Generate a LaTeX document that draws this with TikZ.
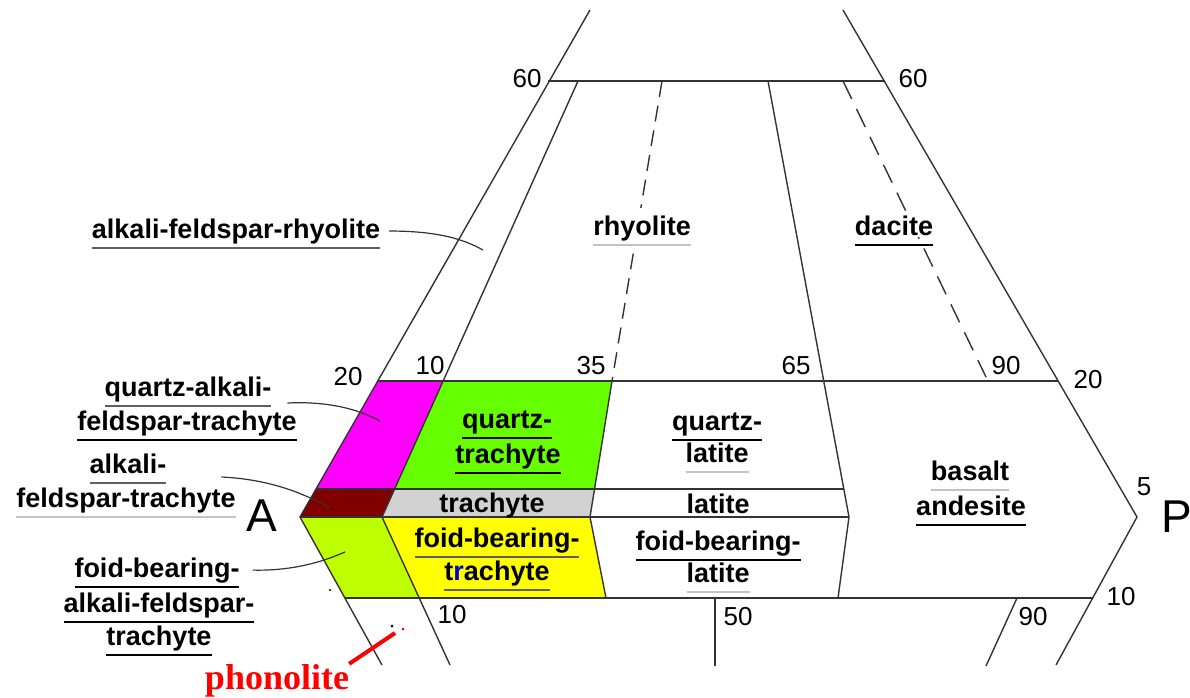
\documentclass[tikz,border=0pt]{standalone}
\usepackage{xcolor}
\usepackage{fontspec}
\setmainfont{Liberation Sans}
\newfontfamily\phonfont{Liberation Serif}
\usetikzlibrary{calc}

\definecolor{qmagenta}{RGB}{255,0,255}
\definecolor{qgreen}{RGB}{102,255,0}
\definecolor{qmaroon}{RGB}{128,0,0}
\definecolor{qgray}{RGB}{210,210,210}
\definecolor{qlime}{RGB}{190,255,0}
\definecolor{qyellow}{RGB}{255,255,0}
\definecolor{ulgray}{RGB}{195,195,195}
\definecolor{uldark}{RGB}{95,95,95}

% underline of a given colour below a word
\newcommand{\ulbar}[2]{\setbox0=\hbox{#2}\rlap{\smash{\textcolor{#1}{\rule[-11pt]{\wd0}{2pt}}}}\box0}

\begin{document}
\begin{tikzpicture}[x=1pt, y=-1pt, line join=round,
  every node/.style={inner sep=0pt},
  rock/.style={font=\fontsize{27}{30}\selectfont\bfseries, anchor=base},
  num/.style={font=\fontsize{26}{28}\selectfont},
  apex/.style={font=\fontsize{46}{50}\selectfont},
  bound/.style={line width=1.4pt, black!80},
  lead/.style={line width=1.2pt, black!80}]
  \fill[white] (0,0) rectangle (1190,697);
  \useasboundingbox (0,0) rectangle (1190,697);

  % corners and outer sides
  \coordinate (A) at (300,517);
  \coordinate (P) at (1137,517);
  \coordinate (qa) at (590,10);
  \coordinate (qb) at (843,10);
  \coordinate (fa) at (382,665);
  \coordinate (fb) at (1056,665);
  % horizontal lines
  \coordinate (s60a) at (548,81);   \coordinate (s60b) at (885,81);
  \coordinate (s20a) at (378,381);  \coordinate (s20b) at (1058,381);
  \coordinate (s5a) at (316,489);
  \coordinate (f10a) at (345,598);  \coordinate (f10b) at (1093,598);
  % 10 line
  \coordinate (t10) at (578,81);  \coordinate (u10) at (443.1,381);
  \coordinate (v10) at (394.6,489); \coordinate (w10) at (382,517);
  \coordinate (x10) at (419,598);   \coordinate (y10) at (450,665);
  % 35 line
  \coordinate (t35) at (662,81);  \coordinate (u35) at (612,381);
  \coordinate (v35) at (594.5,489); \coordinate (w35) at (590,517);
  \coordinate (x35) at (606,598);
  % 65 line
  \coordinate (t65) at (768,81);  \coordinate (v65) at (843.8,489);
  \coordinate (w65) at (849,517); \coordinate (x65) at (838,598);
  % 90 line and lower ticks
  \coordinate (t90) at (843,81);  \coordinate (u90) at (986,377);
  \coordinate (x50) at (715,598); \coordinate (y50) at (715,666);
  \coordinate (x90) at (1017,598); \coordinate (y90) at (986,666);

  % coloured fields
  \fill[qmagenta] (s20a) -- (u10) -- (v10) -- (s5a) -- cycle;
  \fill[qgreen] (u10) -- (u35) -- (v35) -- (v10) -- cycle;
  \fill[qmaroon] (s5a) -- (v10) -- (w10) -- (A) -- cycle;
  \fill[qgray] (v10) -- (v35) -- (w35) -- (w10) -- cycle;
  \fill[qlime] (A) -- (w10) -- (x10) -- (f10a) -- cycle;
  \fill[qyellow] (w10) -- (w35) -- (x35) -- (x10) -- cycle;

  % field boundaries
  \draw[bound] (qa) -- (A) -- (fa);
  \draw[bound] (qb) -- (P) -- (fb);
  \draw[bound] (s60a) -- (s60b);
  \draw[bound] (s20a) -- (s20b);
  \draw[bound] (s5a) -- (v65);
  \draw[bound] (A) -- (w65);
  \draw[bound] (f10a) -- (f10b);
  \draw[bound] (t10) -- (w10) -- (y10);
  \draw[bound, dash pattern=on 16pt off 9pt] (t35) -- (u35);
  \draw[bound] (u35) -- (w35) -- (x35);
  \draw[bound] (t65) -- (w65) -- (x65);
  \draw[bound, dash pattern=on 20pt off 11pt] (t90) -- (u90);
  \draw[bound] (x50) -- (y50);
  \draw[bound] (x90) -- (y90);

  % numbers
  \node[num] (n60a) at (527,79) {60};
  \node[num] (n60b) at (913,79) {60};
  \node[num] (n20a) at (348,377) {20};
  \node[num] (n10a) at (430,366) {10};
  \node[num] (n35) at (591,366) {35};
  \node[num] (n65) at (796,366) {65};
  \node[num] (n90a) at (1006,366) {90};
  \node[num] (n20b) at (1088,380) {20};
  \node[num] (n5) at (1144,487) {5};
  \node[num] (n10b) at (452,615) {10};
  \node[num] (n50) at (738,617) {50};
  \node[num] (n90b) at (1033,617) {90};
  \node[num] (n10c) at (1121,597) {10};
  \node[apex] (na) at (262,516) {A};
  \node[apex] (np) at (1177,517) {P};

  % field names
  \node[rock] (afr) at (236,238) {\ulbar{uldark}{alkali-feldspar-rhyolite}};
  \node[rock, fill=white, inner sep=7pt] (rhy) at (642,235) {\ulbar{ulgray}{rhyolite}};
  \node[rock, fill=white, inner sep=2pt] (dac) at (894,235) {\ulbar{black}{dacite}};
  \node[rock] (qaft1) at (188,396) {\ulbar{uldark}{quartz-alkali-}};
  \node[rock] (qaft2) at (187,430) {\ulbar{black}{feldspar-trachyte}};
  \node[rock] (aft1) at (128,473) {\ulbar{uldark}{alkali-}};
  \node[rock] (aft2) at (126,507) {\ulbar{ulgray}{feldspar-trachyte}};
  \node[rock] (fbaft1) at (157,577) {\ulbar{black}{foid-bearing-}};
  \node[rock] (fbaft2) at (159,612) {\ulbar{black}{alkali-feldspar-}};
  \node[rock] (fbaft3) at (159,645) {\ulbar{black}{trachyte}};
  \node[rock] (qtr1) at (507,428) {\ulbar{black}{quartz-}};
  \node[rock] (qtr2) at (508,463) {\ulbar{black}{trachyte}};
  \node[rock] (tra) at (492,512) {trachyte};
  \node[rock] (fbt1) at (497,547) {\ulbar{uldark}{foid-bearing-}};
  \node[rock] (fbt2) at (497,580) {\ulbar{uldark}{t\textcolor{blue!80!black}{r}achyte}};
  \node[rock] (qla1) at (717,430) {\ulbar{black}{quartz-}};
  \node[rock] (qla2) at (717,462) {\ulbar{ulgray}{latite}};
  \node[rock] (lat) at (718,513) {latite};
  \node[rock] (fbl1) at (718,550) {\ulbar{black}{foid-bearing-}};
  \node[rock] (fbl2) at (718,582) {\ulbar{ulgray}{latite}};
  \node[rock] (ba1) at (970,480) {\ulbar{ulgray}{basalt}};
  \node[rock] (ba2) at (971,515) {\ulbar{black}{andesite}};

  % leaders
  \coordinate (afrpt) at (483,250);
  \coordinate (qaftpt) at (380,421);
  \coordinate (aftpt) at (330,508);
  \coordinate (fbaftpt) at (345,552);
  \draw[lead] ([xshift=9pt]afr.east) .. controls (440,231) and (465,240) .. (afrpt);
  \draw[lead] ($(qaft1.base east)+(16,7)$) .. controls (330,401) and (360,410) .. (qaftpt);
  \draw[lead] ($(aft1.base east)+(55,4)$) .. controls (265,479) and (300,491) .. (aftpt);
  \draw[lead] ([xshift=13pt]fbaft1.east) .. controls (290,571) and (320,563) .. (fbaftpt);

  % phonolite
  \node[anchor=base, text=red, font=\phonfont\fontsize{36}{40}\selectfont\bfseries] (phon) at (277,689) {phonolite};
  \coordinate (phend) at (395,633);
  \draw[red, line width=4pt] (phon.north east) -- (phend);
  \fill[red] (403,629) circle (1.5);
  \fill (392,626) circle (1.5);
  \fill (330,590) circle (1.2);
\end{tikzpicture}
\end{document}
